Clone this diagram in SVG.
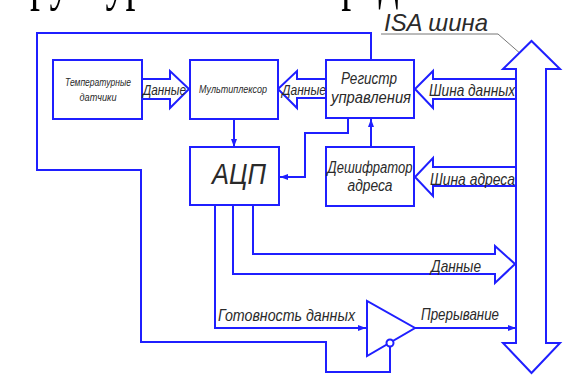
<svg xmlns="http://www.w3.org/2000/svg" width="563" height="380" viewBox="0 0 563 380">
<defs>
<marker id="ah" viewBox="0 0 8 6" refX="8" refY="3" markerWidth="8" markerHeight="6" markerUnits="userSpaceOnUse" orient="auto">
<path d="M0,0 L8,3 L0,6 Z" fill="#1f1fff"/>
</marker>
<style>
.box{fill:#fff;stroke:#1f1fff;stroke-width:2}
.ln{fill:none;stroke:#1f1fff;stroke-width:2}
.fat{fill:#fff;stroke:#1f1fff;stroke-width:2;stroke-linejoin:miter}
.t{font-family:"Liberation Sans",Arial,sans-serif;font-style:italic;fill:#2a2a2a}
.lead{fill:none;stroke:#777;stroke-width:1}
</style>
</defs>
<rect width="563" height="380" fill="#fff"/>
<text x="-14" y="-1.5" font-family="Liberation Serif, serif" font-size="40" fill="#000" transform="scale(1,1.5)">Структурная схема представлена на</text>

<g id="connectors">
<path class="ln" d="M371,60 V33 H37 V170 H141 V342 H326 V372 H390 V346.5"/>
<path class="ln" d="M234,119 V147" marker-end="url(#ah)"/>
<path class="ln" d="M348,118 V133 H305 V177 H280" marker-end="url(#ah)"/>
<path class="ln" d="M371,147 V119" marker-end="url(#ah)"/>
<path class="ln" d="M215,205 V328 H366" marker-end="url(#ah)"/>
<path class="ln" d="M415,328 H516" marker-end="url(#ah)"/>
<path class="fat" d="M142,79 H170 V71 L189,89 L170,108 V99 H142"/>
<path class="fat" d="M326,79 H297 V71 L278,89 L297,108 V98 H326"/>
<path class="fat" d="M516,79 H433 V71 L415,89 L433,108 V99 H516"/>
<path class="fat" d="M516,167 H433 V158 L415,177 L433,196 V186 H516"/>
<path class="fat" d="M233,206 V274 H495 V283 L515,264 L495,246 V254 H253 V206"/>
<path class="lead" d="M381,34 H498 L522,55"/>
<circle cx="522" cy="55" r="1.8" fill="#111"/>
</g>

<g id="isa-bus">
<path class="fat" d="M516,69 H503 L531.5,41 L560,69 H546 V343 H560 L531.5,373 L503,343 H516 Z" fill="none"/>
<text class="t" x="384" y="31" font-size="24" textLength="104" lengthAdjust="spacingAndGlyphs">ISA шина</text>
</g>

<g id="temp-sensors">
<rect class="box" x="53" y="60" width="89" height="59"/>
<text class="t" x="98" y="86" font-size="10" text-anchor="middle" textLength="66" lengthAdjust="spacingAndGlyphs">Температурные</text>
<text class="t" x="98" y="101" font-size="10" text-anchor="middle" textLength="37" lengthAdjust="spacingAndGlyphs">датчики</text>
</g>

<g id="mux">
<rect class="box" x="190" y="60" width="88" height="59"/>
<text class="t" x="233" y="93" font-size="10" text-anchor="middle" textLength="68" lengthAdjust="spacingAndGlyphs">Мультиплексор</text>
</g>

<g id="register">
<rect class="box" x="326" y="60" width="88" height="58"/>
<text class="t" x="369" y="84" font-size="16" text-anchor="middle" textLength="56" lengthAdjust="spacingAndGlyphs">Регистр</text>
<text class="t" x="371" y="103" font-size="16" text-anchor="middle" textLength="80" lengthAdjust="spacingAndGlyphs">управления</text>
</g>

<g id="adc">
<rect class="box" x="190" y="147" width="89" height="58"/>
<text class="t" x="239" y="184" font-size="29" text-anchor="middle" textLength="54" lengthAdjust="spacingAndGlyphs">АЦП</text>
</g>

<g id="decoder">
<rect class="box" x="326" y="147" width="88" height="59"/>
<text class="t" x="370" y="173" font-size="16" text-anchor="middle" textLength="85" lengthAdjust="spacingAndGlyphs">Дешифратор</text>
<text class="t" x="370" y="191" font-size="16" text-anchor="middle" textLength="45" lengthAdjust="spacingAndGlyphs">адреса</text>
</g>

<g id="buffer">
<path class="box" d="M367,301 V356 L415,328 Z"/>
<circle class="box" cx="390" cy="343" r="3.5"/>
</g>

<g id="labels">
<text class="t" x="143" y="95" font-size="15" textLength="43" lengthAdjust="spacingAndGlyphs">Данные</text>
<text class="t" x="282" y="95" font-size="15" textLength="44" lengthAdjust="spacingAndGlyphs">Данные</text>
<text class="t" x="429" y="96" font-size="17" textLength="86" lengthAdjust="spacingAndGlyphs">Шина данных</text>
<text class="t" x="430" y="185" font-size="17" textLength="85" lengthAdjust="spacingAndGlyphs">Шина адреса</text>
<text class="t" x="431" y="272" font-size="17" textLength="50" lengthAdjust="spacingAndGlyphs">Данные</text>
<text class="t" x="218" y="321" font-size="17" textLength="137" lengthAdjust="spacingAndGlyphs">Готовность данных</text>
<text class="t" x="421" y="320" font-size="17" textLength="78" lengthAdjust="spacingAndGlyphs">Прерывание</text>
</g>
</svg>
